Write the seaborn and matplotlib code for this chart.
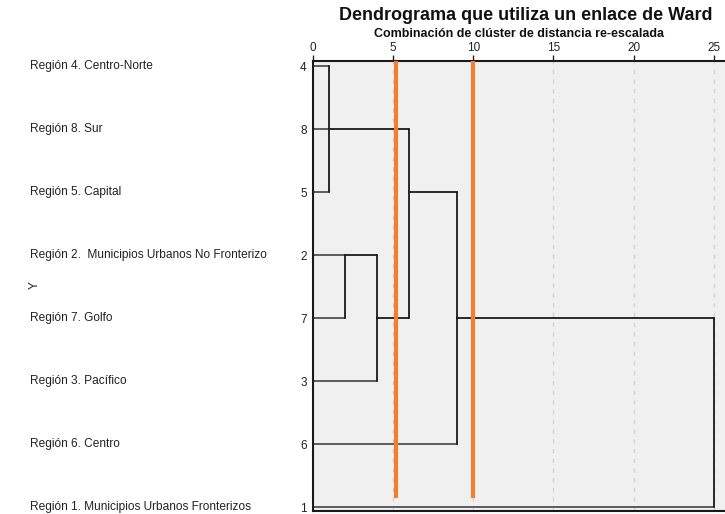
import matplotlib
matplotlib.use("Agg")
import matplotlib.pyplot as plt
import matplotlib.transforms as mtransforms
import seaborn as sns
import pandas as pd

# ---- data ----
leaf_ids = ["4", "8", "5", "2", "7", "3", "6", "1"]
leaf_names = ["Región 4. Centro-Norte", "Región 8. Sur", "Región 5. Capital",
              "Región 2.  Municipios Urbanos No Fronterizo", "Región 7. Golfo",
              "Región 3. Pacífico", "Región 6. Centro",
              "Región 1. Municipios Urbanos Fronterizos"]
# merges: children as ("L", leaf_row) or ("C", merge_index)
merge_children = [
    [("L", 0), ("L", 1), ("L", 2)],
    [("L", 3), ("L", 4)],
    [("C", 1), ("L", 5)],
    [("C", 0), ("C", 2)],
    [("C", 3), ("L", 6)],
    [("C", 4), ("L", 7)],
]
merge_dist = [1.0, 2.0, 4.0, 6.0, 9.0, 25.0]
merge_out_row = [1, 3, 4, 2, 4, 7]
cut_lines = [5.2, 10.0]
x_ticks = [0, 5, 10, 15, 20, 25]

# ---- build segments ----
rows = []
seg = 0
for m, children in enumerate(merge_children):
    d = merge_dist[m]
    crow = []
    for kind, idx in children:
        if kind == "L":
            r, h, typ = idx, 0.0, "leaf"
        else:
            r, h, typ = merge_out_row[idx], merge_dist[idx], "clus"
        crow.append(r)
        rows.append(dict(seg=seg, x=h, y=r, typ=typ))
        rows.append(dict(seg=seg, x=d, y=r, typ=typ))
        seg += 1
    rows.append(dict(seg=seg, x=d, y=min(crow), typ="clus"))
    rows.append(dict(seg=seg, x=d, y=max(crow), typ="clus"))
    seg += 1
df = pd.DataFrame(rows)

sns.set_style("white")
plt.rcParams["font.family"] = ["Liberation Sans", "DejaVu Sans"]

fig = plt.figure(figsize=(7.25, 5.14), dpi=100)
ax = fig.add_axes([313 / 725, 1 - 511 / 514, 1 - 313 / 725 + 0.02, (511 - 61) / 514])
ax.set_facecolor("#f0f0f0")

xmax = 25.7 + 0.02 * 725 / 16.04

for xv in x_ticks[1:]:
    ax.axvline(xv, color="#d4d4d4", lw=1.0, ls=(0, (3, 4)), zorder=0)

sns.lineplot(data=df[df.typ == "leaf"], x="x", y="y", units="seg", estimator=None,
             sort=False, color="#505050", lw=1.3, ax=ax, legend=False)
sns.lineplot(data=df[df.typ == "clus"], x="x", y="y", units="seg", estimator=None,
             sort=False, color="#1a1a1a", lw=1.3, ax=ax, legend=False)

ax.vlines(cut_lines, -0.08, 6.86, color="#f07f2f", lw=3.0, zorder=5)

ax.set_xlim(0, xmax)
ax.set_ylim(7.06, -0.08)

ax.xaxis.tick_top()
ax.set_xticks(x_ticks)
ax.set_xticklabels([str(t) for t in x_ticks], fontsize=8.5, color="#222222")
ax.tick_params(axis="x", length=4, width=1, pad=1, color="#222222")
ax.set_yticks(range(len(leaf_ids)))
ax.set_yticklabels(leaf_ids, fontsize=8.5, color="#222222")
ax.tick_params(axis="y", length=4, width=1, pad=0.5, color="#222222")
ax.set_xlabel("")
ax.set_ylabel("")

for s in ["left", "top", "bottom"]:
    ax.spines[s].set_visible(True)
    ax.spines[s].set_color("#1a1a1a")
    ax.spines[s].set_linewidth(1.5)
ax.spines["right"].set_visible(False)

trans = mtransforms.blended_transform_factory(fig.transFigure, ax.transData)
for i, name in enumerate(leaf_names):
    ax.text(30 / 725, i, name, transform=trans, ha="left", va="center",
            fontsize=8.6, color="#222222")

fig.text(35 / 725, 1 - 285 / 514, "Y", rotation=90, ha="center", va="center",
         fontsize=8.6, color="#222222")
fig.text(526 / 725, 1 - 16 / 514, "Dendrograma que utiliza un enlace de Ward",
         ha="center", va="center", fontsize=13, fontweight="bold", color="#111111")
fig.text(519 / 725, 1 - 34 / 514, "Combinación de clúster de distancia re-escalada",
         ha="center", va="center", fontsize=9, fontweight="bold", color="#111111")

fig.savefig("out.png", dpi=100)
